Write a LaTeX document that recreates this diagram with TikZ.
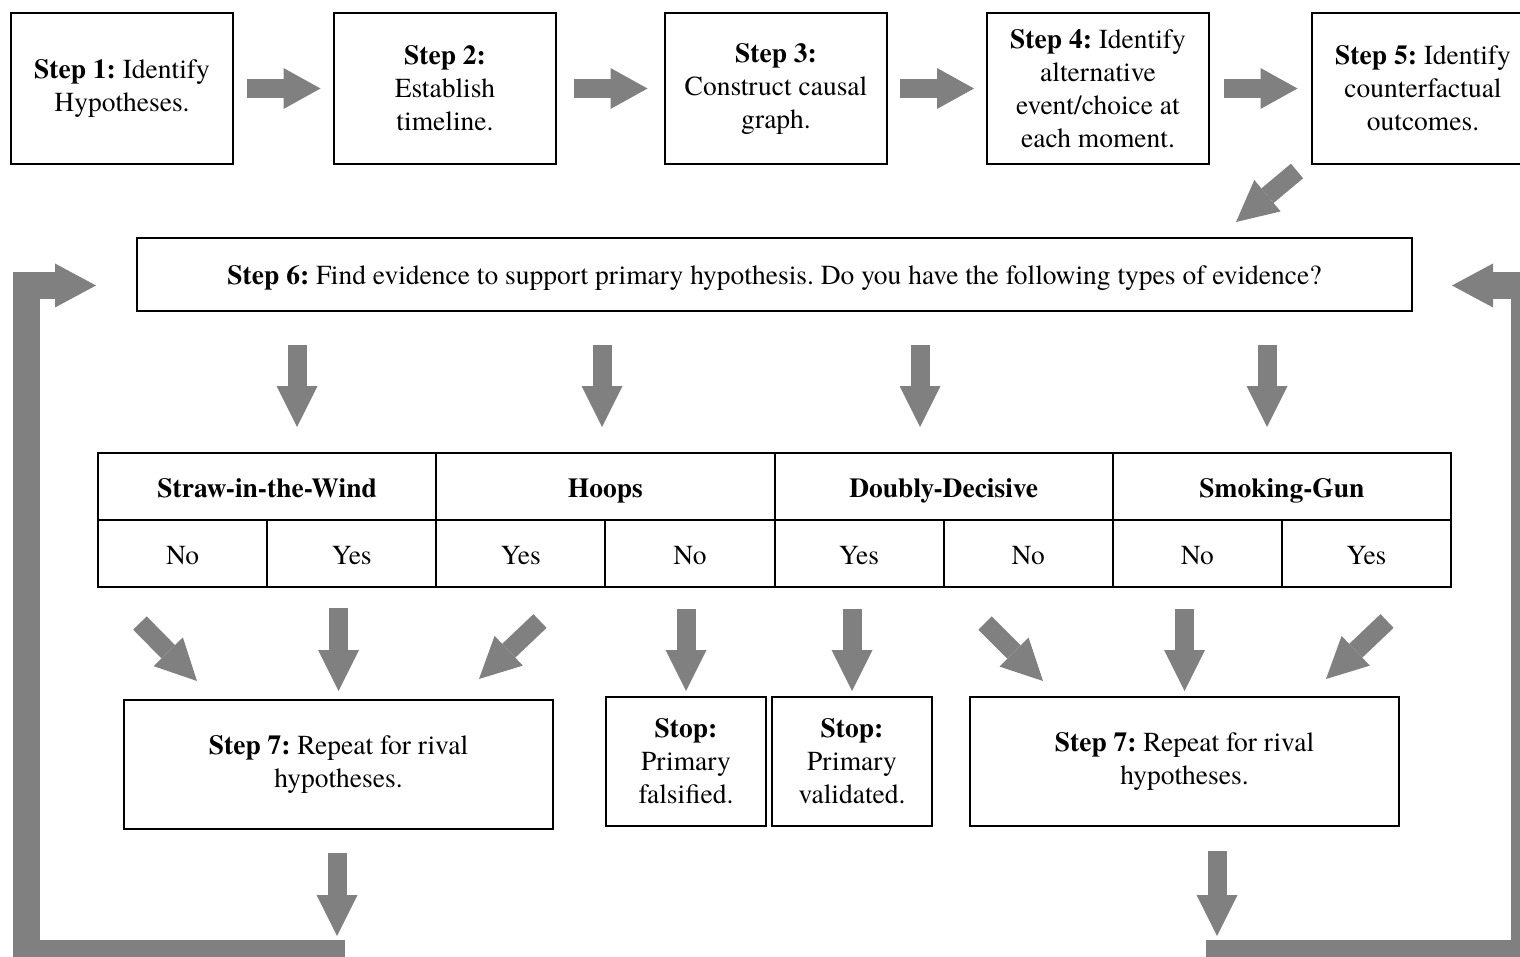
\documentclass[tikz,border=0pt]{standalone}
\usepackage{fontspec}
\setmainfont{texgyretermes}[Extension=.otf,UprightFont=*-regular,BoldFont=*-bold,ItalicFont=*-italic,BoldItalicFont=*-bolditalic]
\usetikzlibrary{arrows.meta,calc}
\definecolor{arrgray}{RGB}{128,128,128}
\frenchspacing
\begin{document}
\frenchspacing
\begin{tikzpicture}[x=1pt,y=-1pt,
  font=\fontsize{27.5}{33}\selectfont,
  stepbox/.style={draw,line width=2pt,align=center,inner sep=0pt},
  onel/.style={text height=23pt,text depth=2pt},
  hcell/.style={draw,line width=2pt,inner sep=0pt,onel,minimum width=338.25pt,minimum height=67pt,font=\fontsize{27.5}{33}\selectfont\bfseries},
  scell/.style={draw,line width=2pt,inner sep=0pt,onel,minimum width=169.125pt,minimum height=67pt},
  blk/.style={draw=arrgray,line width=19pt,-{Triangle[width=41pt 0 0,length=#1 0 0,line width=0pt]}},
  blk/.default=41pt,
  loopbar/.style={draw=arrgray,line width=27pt,line join=miter,-{Triangle[width=44pt 0 0,length=41pt 0 0,line width=0pt]}}]
\useasboundingbox (0,0) rectangle (1520,957);
\clip (0,0) rectangle (1520,957);

% top row
\node[stepbox,minimum width=222pt,minimum height=151pt] (s1) at (122,88.5) {\textbf{Step 1:} Identify\\Hypotheses.};
\node[stepbox,minimum width=222pt,minimum height=151pt] (s2) at (445,88.5) {\textbf{Step 2:}\\Establish\\timeline.};
\node[stepbox,minimum width=222pt,minimum height=151pt] (s3) at (776,88.5) {\textbf{Step 3:}\\Construct causal\\graph.};
\node[stepbox,minimum width=222pt,minimum height=151pt] (s4) at (1098,88.5) {\textbf{Step 4:} Identify\\alternative\\event/choice at\\each moment.};
\node[stepbox,minimum width=222pt,minimum height=151pt] (s5) at (1423,88.5) {\textbf{Step 5:} Identify\\counterfactual\\outcomes.};

\draw[blk=37pt] ($(s1.east)!.5!(s2.west)+(-37,0)$) -- ($(s1.east)!.5!(s2.west)+(37,0)$);
\draw[blk=37pt] ($(s2.east)!.5!(s3.west)+(-37,0)$) -- ($(s2.east)!.5!(s3.west)+(37,0)$);
\draw[blk=37pt] ($(s3.east)!.5!(s4.west)+(-37,0)$) -- ($(s3.east)!.5!(s4.west)+(37,0)$);
\draw[blk=37pt] ($(s4.east)!.5!(s5.west)+(-37,0)$) -- ($(s4.east)!.5!(s5.west)+(37,0)$);

% step 6
\node[stepbox,onel,minimum width=1275pt,minimum height=73pt] (s6) at (774.5,274.5) {\textbf{Step 6:} Find evidence to support primary hypothesis. Do you have the following types of evidence?};
\draw[blk] ($(s5.south west)+(-14,6)$) -- ($(s6.north east)+(-177,-15)$);

% table
\node[hcell] (h1) at (267.125,486.5) {Straw-in-the-Wind};
\node[hcell] (h2) at (605.375,486.5) {Hoops};
\node[hcell] (h3) at (943.625,486.5) {Doubly-Decisive};
\node[hcell] (h4) at (1281.875,486.5) {Smoking-Gun};
\node[scell] (c1) at (182.56,553.5) {No};
\node[scell] (c2) at (351.69,553.5) {Yes};
\node[scell] (c3) at (520.81,553.5) {Yes};
\node[scell] (c4) at (689.94,553.5) {No};
\node[scell] (c5) at (859.06,553.5) {Yes};
\node[scell] (c6) at (1028.19,553.5) {No};
\node[scell] (c7) at (1197.31,553.5) {No};
\node[scell] (c8) at (1366.44,553.5) {Yes};

\draw[blk] ($(s6.south west)+(161,33)$) -- ($(h1.north west)+(200,-25)$);
\draw[blk] ($(s6.south west)+(466,33)$) -- ($(h1.north west)+(505,-25)$);
\draw[blk] ($(s6.south west)+(784,33)$) -- ($(h1.north west)+(823,-25)$);
\draw[blk] ($(s6.south west)+(1131,33)$) -- ($(h1.north west)+(1170,-25)$);

% lower boxes
\node[stepbox,minimum width=429pt,minimum height=129pt] (l7) at (338.5,764.5) {\textbf{Step 7:} Repeat for rival\\hypotheses.};
\node[stepbox,minimum width=160pt,minimum height=129pt] (f1) at (686,761.5) {\textbf{Stop:}\\Primary\\falsified.};
\node[stepbox,minimum width=160pt,minimum height=129pt] (v1) at (852,761.5) {\textbf{Stop:}\\Primary\\validated.};
\node[stepbox,minimum width=429pt,minimum height=129pt] (r7) at (1184.5,761.5) {\textbf{Step 7:} Repeat for rival\\hypotheses.};

\draw[blk] ($(c1.south)+(-42.6,35)$) -- ($(l7.north west)+(74,-18)$);
\draw[blk] ([yshift=-20pt]c2.south -| l7.north) -- ([yshift=8pt]l7.north);
\draw[blk] ($(c3.south)+(19.2,33)$) -- ($(l7.north east)+(-75,-20)$);
\draw[blk] ([yshift=-21pt]c4.south -| f1.north) -- ([yshift=5pt]f1.north);
\draw[blk] ([yshift=-21pt]c5.south -| v1.north) -- ([yshift=5pt]v1.north);
\draw[blk] ($(c6.south)+(-43.2,35)$) -- ($(r7.north west)+(74,-15)$);
\draw[blk] ([yshift=-21pt]c7.south -| r7.north) -- ([yshift=5pt]r7.north);
\draw[blk] ($(c8.south)+(20.6,33)$) -- ($(r7.north east)+(-74,-17)$);

% return loops
\draw[blk] ($(l7.south)+(-1.5,23)$) -- ($(l7.south)+(-1.5,106)$);
\draw[blk] ($(r7.south)+(32.5,24)$) -- ($(r7.south)+(32.5,109)$);
\coordinate (lb) at (345,953.5);
\coordinate (lc) at (26.5,953.5);
\coordinate (rb) at (1206,953.5);
\coordinate (rc) at (1524.5,953.5);
\draw[loopbar] (lb) -- (lc) |- ($(s6.west)+(-40,11)$);
\draw[loopbar] (rb) -- (rc) |- ($(s6.east)+(39,11)$);
\end{tikzpicture}
\end{document}
